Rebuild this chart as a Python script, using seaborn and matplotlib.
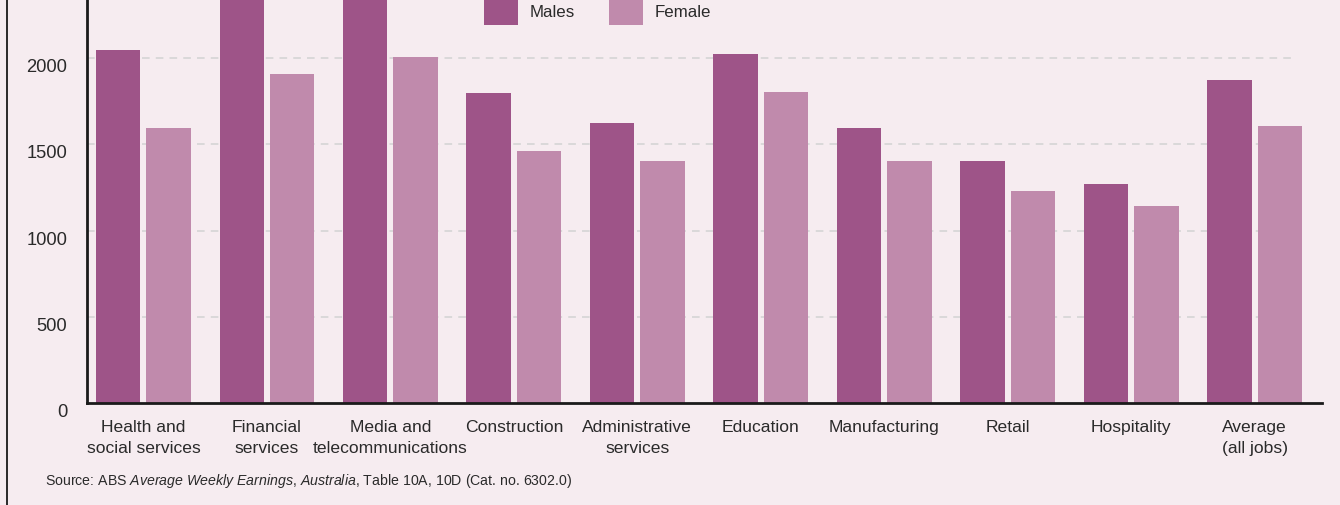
import matplotlib
matplotlib.use("Agg")
import matplotlib.pyplot as plt
import matplotlib.transforms as mtransforms
import seaborn as sns
import pandas as pd
from matplotlib.lines import Line2D

categories = ["Health and\nsocial services", "Financial\nservices", "Media and\ntelecommunications",
              "Construction", "Administrative\nservices", "Education", "Manufacturing",
              "Retail", "Hospitality", "Average\n(all jobs)"]
males = [2046, 2480, 2420, 1798, 1624, 2025, 1595, 1403, 1269, 1874]
female = [1594, 1907, 2006, 1461, 1403, 1804, 1403, 1229, 1141, 1607]
series = ["Males", "Female"]
yticks = [0, 500, 1000, 1500, 2000]

BG = "#F6ECF0"
C_M = "#9E5488"
C_F = "#C08AAC"
TXT = "#2A2A2A"

sns.set_theme(style="white")
plt.rcParams["font.family"] = ["Liberation Sans", "DejaVu Sans"]
plt.rcParams["mathtext.fontset"] = "custom"
plt.rcParams["mathtext.it"] = "Liberation Sans:italic"
plt.rcParams["mathtext.rm"] = "Liberation Sans"

df = pd.DataFrame({
    "category": categories * 2,
    "sex": [series[0]] * len(categories) + [series[1]] * len(categories),
    "value": males + female,
})

fig = plt.figure(figsize=(13.4, 5.05), dpi=100, facecolor=BG)
ax = fig.add_axes([87 / 1340, 102 / 505, (1322 - 87) / 1340, 403 / 505])
ax.set_facecolor(BG)

sns.barplot(data=df, x="category", y="value", hue="sex", order=categories,
            hue_order=series, palette=[C_M, C_F], width=0.816, gap=0.12,
            linewidth=0, edgecolor="none", errorbar=None, ax=ax, legend=False,
            saturation=1, zorder=2)

ax.set_xlim(-0.457, 9.545)
ax.set_ylim(0, 2338)

# gridlines
ax.hlines(yticks[1:], -0.457, 9.296, colors="#D2D2D2", linestyles=(0, (5, 4)),
          linewidth=1.1, zorder=1)

for s in ["top", "right"]:
    ax.spines[s].set_visible(False)
for s in ["left", "bottom"]:
    ax.spines[s].set_color("#1a1a1a")
    ax.spines[s].set_linewidth(2)
    ax.spines[s].set_zorder(3)

ax.set_yticks(yticks)
ax.set_yticklabels([str(v) for v in yticks])
ax.tick_params(axis="y", direction="in", length=6.7, width=1.6, color="#1a1a1a",
               pad=14.4, labelsize=13.2, labelcolor=TXT)
shift = mtransforms.ScaledTranslation(0, -1.0 / 100, fig.dpi_scale_trans)
for lab in ax.get_yticklabels():
    lab.set_va("top")
    lab.set_transform(lab.get_transform() + shift)

ax.set_xticks(range(len(categories)))
ax.set_xticklabels(categories, multialignment="center", linespacing=1.45)
ax.tick_params(axis="x", which="major", length=0, pad=12.5, labelsize=12.6,
               labelcolor=TXT)
ax.set_xticks([i + 0.543 for i in range(len(categories))], minor=True)
ax.tick_params(axis="x", which="minor", direction="in", length=6.5, width=1.1,
               color="#1a1a1a")
ax.set_xlabel("")
ax.set_ylabel("")

# legend
handles = [plt.Rectangle((0, 0), 1, 1, facecolor=c, edgecolor="none") for c in (C_M, C_F)]
fig.legend(handles, series, loc="center left", bbox_to_anchor=(484 / 1340, 1 - 12 / 505),
           frameon=False, fontsize=12.2, handlelength=2.0, handleheight=2.0,
           handletextpad=0.7, columnspacing=2.0, ncol=2, borderpad=0,
           borderaxespad=0, labelcolor=TXT)

# source
fig.text(45 / 1340, 1 - 485 / 505,
         r"Source: ABS $\mathit{Average\ Weekly\ Earnings}$, $\mathit{Australia}$, Table 10A, 10D (Cat. no. 6302.0)",
         fontsize=10.2, color=TXT, ha="left", va="baseline")

# left frame line
fig.add_artist(Line2D([7 / 1340, 7 / 1340], [0, 1], transform=fig.transFigure,
                      color="#1a1a1a", linewidth=1.3))

fig.savefig("out.png", dpi=100, facecolor=BG)
